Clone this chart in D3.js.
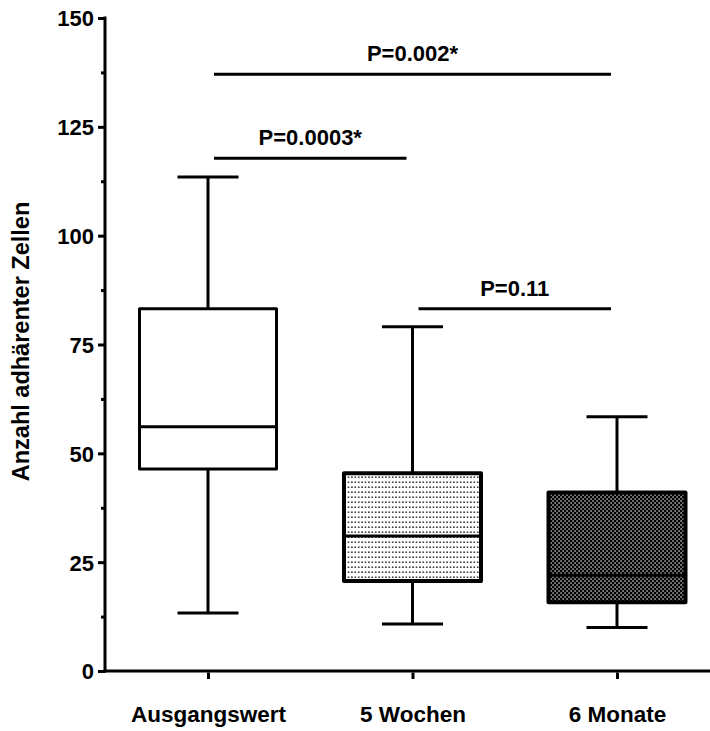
<!DOCTYPE html>
<html lang="de">
<head>
    <meta charset="UTF-8">
    <title>Anzahl adhärenter Zellen</title>
    <style>
        body { margin: 0; background: #fff; }
        svg text { font-family: "Liberation Sans", Arial, sans-serif; font-weight: bold; fill: #000; }
    </style>
</head>
<body>
<svg id="chart"></svg>
<script src="https://d3js.org/d3.v7.min.js"></script>
<script>
    // Daten
    var categories = ["Ausgangswert", "5 Wochen", "6 Monate"];
    var whiskerMin = [13.3, 10.8, 10.0];
    var q1 = [46.4, 20.7, 15.8];
    var median = [56.1, 31.0, 22.0];
    var q3 = [83.2, 45.4, 41.0];
    var whiskerMax = [113.5, 79.1, 58.4];
    var yTicks = [0, 25, 50, 75, 100, 125, 150];
    var yMinorTicks = [12.5, 37.5, 62.5, 87.5, 112.5, 137.5];

    // Signifikanz-Balken: von, bis, Hoehe (Achsenwert), Text
    var compFrom = [0, 0, 1];
    var compTo = [1, 2, 2];
    var compLevel = [117.8, 137.1, 83.2];
    var compLabel = ["P=0.0003*", "P=0.002*", "P=0.11"];

    var width = 710;
    var height = 731;
    var fontSize = 22;

    var svg = d3.select("#chart")
        .attr("width", width)
        .attr("height", height);

    var defs = svg.append("defs");

    // feines Punktmuster (5 Wochen)
    var dots = defs.append("pattern")
        .attr("id", "dots")
        .attr("patternUnits", "userSpaceOnUse")
        .attr("width", 3.4)
        .attr("height", 5);
    dots.append("rect").attr("width", 3.4).attr("height", 5).attr("fill", "#fff");
    dots.append("rect").attr("x", 1).attr("y", 1.5).attr("width", 1.4).attr("height", 1.4).attr("fill", "#000");

    // dichtes Schachbrettmuster (6 Monate)
    var checker = defs.append("pattern")
        .attr("id", "checker")
        .attr("patternUnits", "userSpaceOnUse")
        .attr("width", 4)
        .attr("height", 4);
    checker.append("rect").attr("width", 4).attr("height", 4).attr("fill", "#000");
    checker.append("rect").attr("x", 0.4).attr("y", 0.4).attr("width", 1.3).attr("height", 1.3).attr("fill", "#fff");
    checker.append("rect").attr("x", 2.4).attr("y", 2.4).attr("width", 1.3).attr("height", 1.3).attr("fill", "#fff");

    var fills = ["#fff", "url(#dots)", "url(#checker)"];
    var boxStroke = [3, 4, 4];

    var yScale = d3.scaleLinear().domain([0, 150]).range([671, 18]);
    var xScale = d3.scalePoint().domain(categories).range([208, 617]);
    var boxWidth = 137;
    var capWidth = 61;

    var g = svg.append("g");

    // Y-Achse
    var yAxis = d3.axisLeft(yScale)
        .tickValues(yTicks)
        .tickSize(7)
        .tickSizeOuter(0)
        .tickPadding(4);
    var yG = g.append("g")
        .attr("transform", "translate(105,0)")
        .call(yAxis);
    yG.select(".domain").attr("stroke-width", 3).attr("d", "M0," + (yScale(150) - 1.5) + "V" + (yScale(0) + 1.5));
    yG.selectAll(".tick line").attr("stroke-width", 3);
    yG.selectAll(".tick text").style("font-size", fontSize + "px").attr("dy", "0.36em");

    var yMinor = d3.axisLeft(yScale)
        .tickValues(yMinorTicks)
        .tickSize(4)
        .tickSizeOuter(0)
        .tickFormat("");
    var yMinorG = g.append("g")
        .attr("transform", "translate(105,0)")
        .call(yMinor);
    yMinorG.select(".domain").remove();
    yMinorG.selectAll(".tick line").attr("stroke-width", 3);

    // X-Achse
    var xAxis = d3.axisBottom(xScale)
        .tickSize(8)
        .tickSizeOuter(0)
        .tickPadding(27);
    var xG = g.append("g")
        .attr("transform", "translate(0," + yScale(0) + ")")
        .call(xAxis);
    xG.select(".domain").attr("stroke-width", 3).attr("d", "M103.5,0H710");
    xG.selectAll(".tick line").attr("stroke-width", 3).attr("y1", 1.5);
    xG.selectAll(".tick text").style("font-size", "22.5px");

    // Y-Achsentitel
    g.append("text")
        .attr("transform", "translate(29," + ((yScale(0) + yScale(150)) / 2 - 3) + ") rotate(-90)")
        .attr("text-anchor", "middle")
        .style("font-size", "23.5px")
        .text("Anzahl adhärenter Zellen");

    // Boxplots
    var boxes = g.selectAll(".box")
        .data(categories)
        .enter().append("g")
        .attr("class", "box");

    boxes.append("line")
        .attr("x1", function (d) { return xScale(d); })
        .attr("x2", function (d) { return xScale(d); })
        .attr("y1", function (d, i) { return yScale(whiskerMin[i]); })
        .attr("y2", function (d, i) { return yScale(whiskerMax[i]); })
        .attr("stroke", "#000")
        .attr("stroke-width", 3);

    [whiskerMin, whiskerMax].forEach(function (arr) {
        boxes.append("line")
            .attr("x1", function (d) { return xScale(d) - capWidth / 2; })
            .attr("x2", function (d) { return xScale(d) + capWidth / 2; })
            .attr("y1", function (d, i) { return yScale(arr[i]); })
            .attr("y2", function (d, i) { return yScale(arr[i]); })
            .attr("stroke", "#000")
            .attr("stroke-width", 3);
    });

    boxes.append("rect")
        .attr("x", function (d) { return xScale(d) - boxWidth / 2; })
        .attr("y", function (d, i) { return yScale(q3[i]); })
        .attr("width", boxWidth)
        .attr("height", function (d, i) { return yScale(q1[i]) - yScale(q3[i]); })
        .attr("fill", function (d, i) { return fills[i]; })
        .attr("stroke", "#000")
        .attr("stroke-width", function (d, i) { return boxStroke[i]; })
        .attr("stroke-linejoin", "round");

    boxes.append("line")
        .attr("x1", function (d) { return xScale(d) - boxWidth / 2; })
        .attr("x2", function (d) { return xScale(d) + boxWidth / 2; })
        .attr("y1", function (d, i) { return yScale(median[i]); })
        .attr("y2", function (d, i) { return yScale(median[i]); })
        .attr("stroke", "#000")
        .attr("stroke-width", 3);

    // Signifikanz-Balken
    var comps = g.selectAll(".comp")
        .data(compLabel)
        .enter().append("g")
        .attr("class", "comp");

    comps.append("line")
        .attr("x1", function (d, i) { return xScale(categories[compFrom[i]]) + 6; })
        .attr("x2", function (d, i) { return xScale(categories[compTo[i]]) - 6; })
        .attr("y1", function (d, i) { return yScale(compLevel[i]); })
        .attr("y2", function (d, i) { return yScale(compLevel[i]); })
        .attr("stroke", "#000")
        .attr("stroke-width", 3);

    comps.append("text")
        .attr("x", function (d, i) { return (xScale(categories[compFrom[i]]) + xScale(categories[compTo[i]])) / 2; })
        .attr("y", function (d, i) { return yScale(compLevel[i]) - 13; })
        .attr("text-anchor", "middle")
        .style("font-size", fontSize + "px")
        .text(function (d) { return d; });
</script>
</body>
</html>
